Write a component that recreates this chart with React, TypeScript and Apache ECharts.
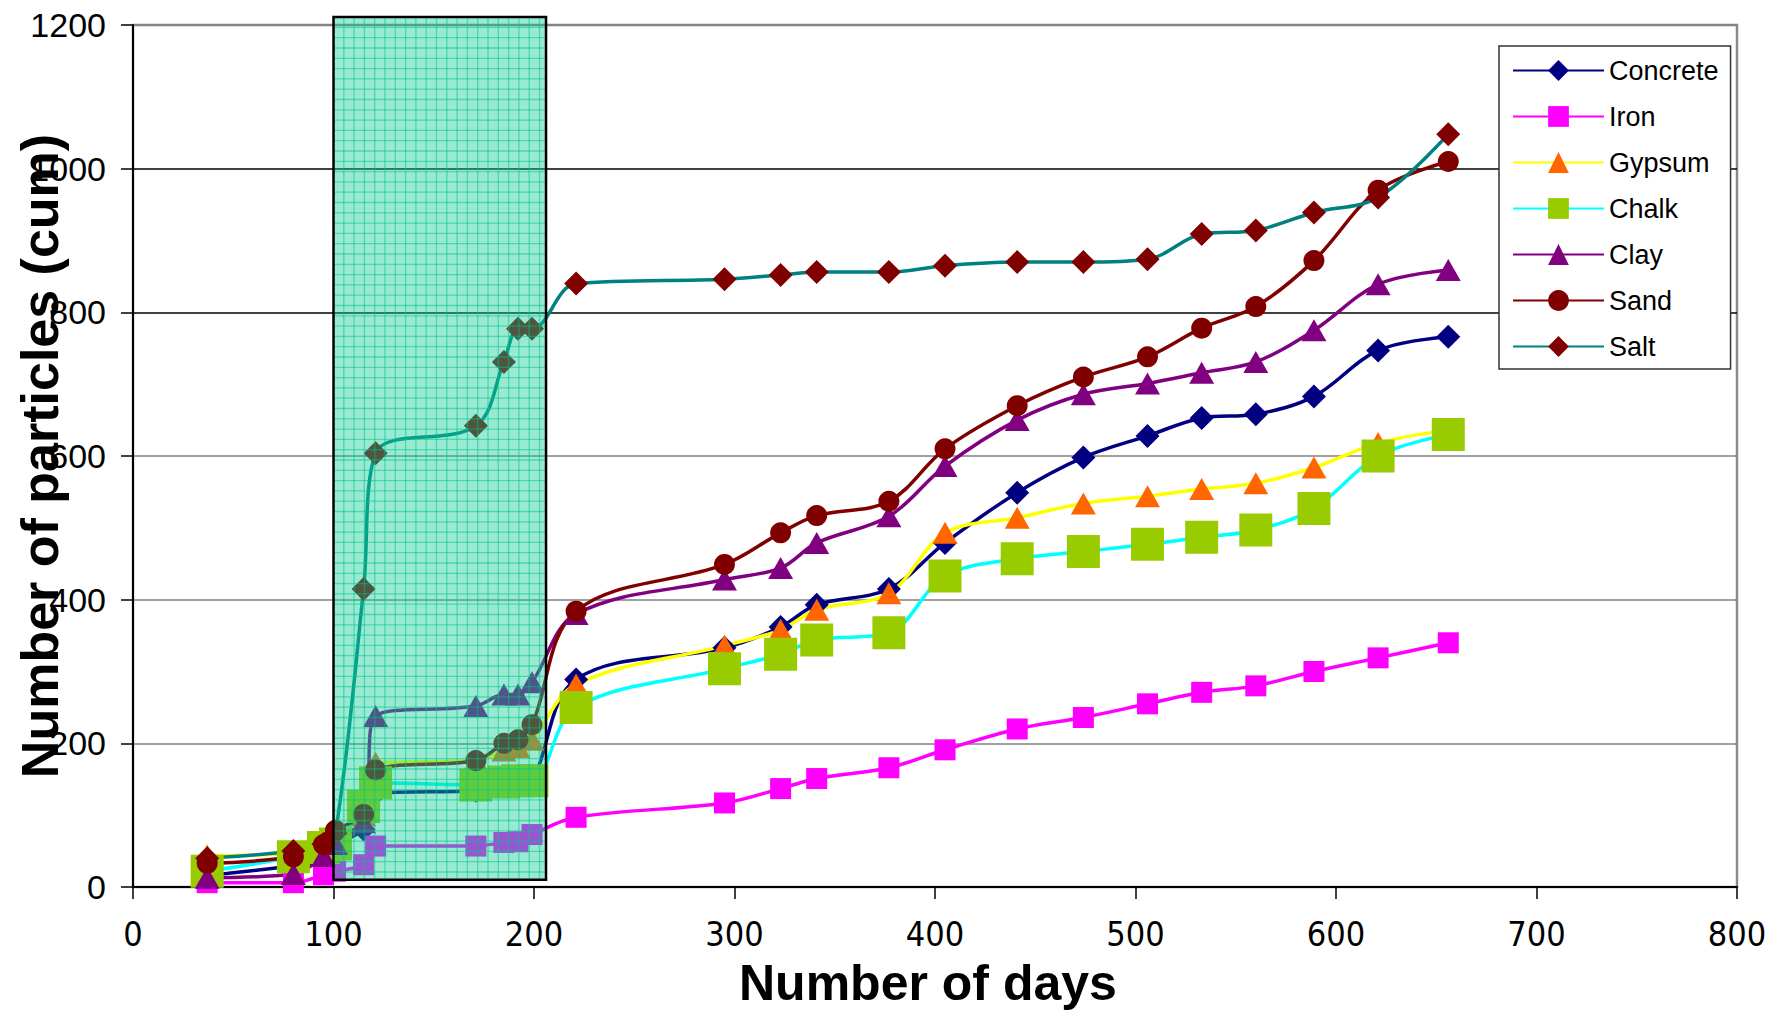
import React, { useEffect, useRef } from "react";
import * as echarts from "echarts";

// Sampling days (x values shared by every series)
const days = [37, 80, 95, 101, 115, 121, 171, 185, 192, 199, 221, 295, 323, 341, 377, 405, 441, 474, 506, 533, 560, 589, 621, 656];

// Cumulative number of particles per material
const concrete = [16, 30, 40, 60, 80, 130, 134, 140, 145, 150, 289, 333, 362, 393, 415, 479, 549, 598, 628, 653, 658, 683, 747, 766];
const iron = [6, 6, 17, 22, 31, 57, 57, 62, 63, 73, 97, 117, 137, 151, 166, 191, 220, 236, 255, 271, 280, 300, 319, 340];
const gypsum = [44, 47, 63, 72, 100, 173, 176, 190, 195, 205, 282, 336, 358, 386, 409, 493, 514, 534, 544, 554, 562, 584, 618, 636];
const chalk = [22, 42, 55, 60, 112, 145, 142, 146, 148, 148, 250, 304, 324, 344, 354, 433, 457, 467, 477, 487, 497, 527, 600, 630];
const clay = [13, 18, 43, 60, 90, 238, 252, 268, 268, 285, 380, 428, 444, 479, 516, 586, 650, 686, 701, 716, 731, 775, 839, 859];
const sand = [33, 42, 59, 79, 101, 163, 176, 200, 205, 226, 384, 449, 493, 517, 537, 610, 670, 710, 738, 778, 808, 872, 970, 1010];
const salt = [40, 50, 60, 75, 415, 604, 642, 731, 777, 777, 840, 846, 852, 856, 856, 865, 870, 870, 874, 909, 914, 939, 960, 1048];

const seriesNames = ["Concrete", "Iron", "Gypsum", "Chalk", "Clay", "Sand", "Salt"];

// Highlighted period (days) and its vertical extent (particles)
const highlightDays = [100, 206];
const highlightCounts = [10, 1211];

// Axis ticks
const xTicks = [0, 100, 200, 300, 400, 500, 600, 700, 800];
const yTicks = [0, 200, 400, 600, 800, 1000, 1200];

const SANS = "'Liberation Sans', Arial, Helvetica, sans-serif";
const NARROW = "'Liberation Sans Narrow', 'Arial Narrow', 'DejaVu Sans Condensed', 'Liberation Sans', sans-serif";

function mk(name: string, vals: number[], lineColor: string, markColor: string, symbol: string, size: any) {
  return {
    type: "line",
    name,
    data: days.map((d, i) => [d, vals[i]]),
    smooth: 0.35,
    symbol,
    symbolSize: size,
    showSymbol: true,
    lineStyle: { color: lineColor, width: 3.5 },
    itemStyle: { color: markColor },
    emphasis: { disabled: true },
    z: 2,
  };
}

export default function App() {
  const ref = useRef<HTMLDivElement>(null);
  useEffect(() => {
    if (!ref.current) return;
    const chart = echarts.init(ref.current, undefined, { renderer: "svg" });
    const option: any = {
      animation: false,
      backgroundColor: "#ffffff",
      grid: {
        left: 133,
        top: 25,
        right: 36,
        bottom: 123,
        show: true,
        borderColor: "#8a8a8a",
        borderWidth: 2.5,
        backgroundColor: "transparent",
      },
      xAxis: {
        type: "value",
        min: xTicks[0],
        max: xTicks[xTicks.length - 1],
        interval: 100,
        axisLine: { show: true, lineStyle: { color: "#000", width: 2 } },
        axisTick: { show: true, length: 12, lineStyle: { color: "#000", width: 1.5 } },
        axisLabel: {
          fontSize: 34,
          lineHeight: 34,
          fontFamily: NARROW,
          color: "#000",
          margin: 30,
          formatter: (v: number) => String(v),
        },
        splitLine: { show: false },
      },
      yAxis: {
        type: "value",
        min: yTicks[0],
        max: yTicks[yTicks.length - 1],
        interval: 200,
        axisLine: { show: true, lineStyle: { color: "#000", width: 2 } },
        axisTick: { show: true, length: 12, lineStyle: { color: "#000", width: 1.5 } },
        axisLabel: {
          fontSize: 34,
          fontFamily: SANS,
          color: "#000",
          margin: 27,
          formatter: (v: number) => String(v),
        },
        splitLine: {
          show: true,
          lineStyle: {
            color: ["#808080", "#808080", "#808080", "#808080", "#000000", "#000000", "#808080"],
            width: 1.6,
          },
        },
      },
      legend: {
        data: seriesNames,
        orient: "vertical",
        left: 1499,
        top: 46,
        itemWidth: 91,
        itemHeight: 26,
        itemGap: 19,
        padding: [11, 12, 9, 13],
        backgroundColor: "#ffffff",
        borderColor: "#333",
        borderWidth: 1.5,
        selectedMode: false,
        textStyle: { fontSize: 27, fontFamily: SANS, color: "#000" },
      },
      graphic: [
        {
          type: "text",
          left: 739,
          top: 958,
          style: { text: "Number of days", font: `bold 50px ${SANS}`, fill: "#000" },
          z: 100,
        },
        {
          type: "text",
          x: 40,
          y: 456,
          rotation: Math.PI / 2,
          style: {
            text: "Number of particles (cum)",
            font: `bold 52px ${SANS}`,
            fill: "#000",
            textAlign: "center",
            textVerticalAlign: "middle",
          },
          z: 100,
        },
      ],
      series: [
        mk("Concrete", concrete, "#000080", "#000080", "diamond", 24),
        mk("Iron", iron, "#FF00FF", "#FF00FF", "rect", 21),
        mk("Gypsum", gypsum, "#FFFF00", "#FF6600", "triangle", [25, 22]),
        mk("Chalk", chalk, "#00FFFF", "#99CC00", "rect", 33),
        mk("Clay", clay, "#800080", "#800080", "triangle", [25, 22]),
        mk("Sand", sand, "#800000", "#800000", "circle", 21),
        mk("Salt", salt, "#008080", "#800000", "diamond", 24),
        {
          type: "custom",
          name: "highlight",
          silent: true,
          clip: false,
          z: 10,
          encode: { x: [0, 2], y: [1, 3] },
          data: [[highlightDays[0], highlightCounts[0], highlightDays[1], highlightCounts[1]]],
          renderItem: (params: any, api: any) => {
            const tl = api.coord([api.value(0), api.value(3)]);
            const br = api.coord([api.value(2), api.value(1)]);
            const x = tl[0];
            const y = tl[1];
            const w = br[0] - tl[0];
            const h = br[1] - tl[1];
            const children: any[] = [
              { type: "rect", shape: { x, y, width: w, height: h }, style: { fill: "rgba(9,204,151,0.42)" } },
            ];
            const step = 10.3;
            for (let gx = x + step; gx < x + w - 1; gx += step) {
              children.push({
                type: "line",
                shape: { x1: gx, y1: y, x2: gx, y2: y + h },
                style: { stroke: "rgba(0,195,135,0.5)", lineWidth: 1.3 },
              });
            }
            for (let gy = y + step; gy < y + h - 1; gy += step) {
              children.push({
                type: "line",
                shape: { x1: x, y1: gy, x2: x + w, y2: gy },
                style: { stroke: "rgba(0,195,135,0.5)", lineWidth: 1.3 },
              });
            }
            children.push({
              type: "rect",
              shape: { x, y, width: w, height: h },
              style: { fill: "none", stroke: "#000", lineWidth: 2.5 },
            });
            return { type: "group", children };
          },
        },
      ],
    };
    chart.setOption(option);
    return () => chart.dispose();
  }, []);
  return (
    <div
      ref={ref}
      style={{ position: "absolute", left: 0, top: 0, width: 1773, height: 1010, background: "#fff" }}
    />
  );
}
